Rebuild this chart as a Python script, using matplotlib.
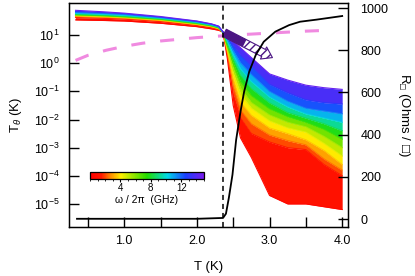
import numpy as np
import matplotlib
matplotlib.use("Agg")
import matplotlib.pyplot as plt
from matplotlib.colors import LinearSegmentedColormap, Normalize
from matplotlib.cm import ScalarMappable
from matplotlib.patches import FancyArrowPatch, ArrowStyle
from matplotlib.ticker import MultipleLocator, FuncFormatter, NullLocator, FixedLocator

plt.rcParams['font.family'] = ['Liberation Sans', 'DejaVu Sans']
plt.rcParams['mathtext.fontset'] = 'custom'
plt.rcParams['mathtext.rm'] = 'Liberation Sans'
plt.rcParams['mathtext.it'] = 'Liberation Sans:italic'
plt.rcParams['mathtext.sf'] = 'Liberation Sans'
plt.rcParams['mathtext.fallback'] = 'stixsans'

# ---------------- data ----------------
# temperatures (K) at which the T_theta curves were read
temps = [0.33, 0.7, 1.0, 1.5, 2.0, 2.2, 2.3, 2.36, 2.42, 2.5, 2.6, 2.75, 3.0, 3.25, 3.5, 3.75, 4.0]
# frequencies (GHz) of the plotted T_theta curves
freqs_ghz = [0.5, 1.5, 2.5, 3.5, 4.5, 5.5, 7.0, 8.5, 10.0, 11.5, 13.0, 14.5]
# log10 of T_theta (K) for each frequency
log_tth_f0p5 = [1.54, 1.52, 1.50, 1.42, 1.30, 1.22, 1.17, 1.10, 0.15, -1.5, -2.65, -3.35, -4.7, -5.0, -5.0, -5.1, -5.2]
log_tth_f1p5 = [1.62, 1.60, 1.57, 1.48, 1.34, 1.26, 1.20, 1.10, 0.30, -1.1, -1.94, -2.5, -2.8, -3.0, -3.07, -3.6, -4.0]
log_tth_f2p5 = [1.66, 1.63, 1.60, 1.51, 1.37, 1.29, 1.22, 1.10, 0.38, -0.8, -1.65, -2.15, -2.55, -2.75, -2.9, -3.4, -3.8]
log_tth_f3p5 = [1.68, 1.65, 1.62, 1.53, 1.38, 1.30, 1.23, 1.10, 0.45, -0.55, -1.38, -1.85, -2.3, -2.5, -2.72, -3.1, -3.6]
log_tth_f4p5 = [1.70, 1.67, 1.63, 1.54, 1.39, 1.31, 1.24, 1.10, 0.50, -0.35, -1.1, -1.6, -2.05, -2.3, -2.45, -2.85, -3.3]
log_tth_f5p5 = [1.71, 1.68, 1.64, 1.55, 1.40, 1.32, 1.25, 1.10, 0.55, -0.2, -0.88, -1.4, -1.84, -2.1, -2.26, -2.6, -3.0]
log_tth_f7p0 = [1.72, 1.69, 1.65, 1.56, 1.41, 1.33, 1.26, 1.10, 0.62, 0.0, -0.65, -1.15, -1.62, -1.9, -2.1, -2.35, -2.7]
log_tth_f8p5 = [1.74, 1.71, 1.67, 1.58, 1.43, 1.34, 1.27, 1.10, 0.70, 0.15, -0.42, -0.9, -1.41, -1.75, -1.95, -2.15, -2.4]
log_tth_f10p0 = [1.77, 1.74, 1.70, 1.60, 1.45, 1.36, 1.29, 1.10, 0.78, 0.30, -0.2, -0.65, -1.2, -1.55, -1.8, -1.95, -2.1]
log_tth_f11p5 = [1.80, 1.77, 1.73, 1.62, 1.47, 1.38, 1.30, 1.10, 0.85, 0.45, 0.02, -0.4, -1.0, -1.35, -1.6, -1.7, -1.8]
log_tth_f13p0 = [1.84, 1.80, 1.76, 1.64, 1.49, 1.39, 1.31, 1.11, 0.92, 0.62, 0.28, -0.1, -0.75, -1.05, -1.3, -1.4, -1.45]
log_tth_f14p5 = [1.88, 1.83, 1.78, 1.66, 1.50, 1.40, 1.32, 1.12, 1.00, 0.78, 0.55, 0.20, -0.38, -0.6, -0.78, -0.87, -0.93]

# pink dashed curve
pink_temps = [0.33, 0.5, 0.75, 1.0, 1.25, 1.5, 2.0, 2.5, 3.0, 3.5, 3.8]
pink_log_tth = [0.10, 0.28, 0.46, 0.60, 0.71, 0.79, 0.91, 1.0, 1.07, 1.14, 1.17]

# sheet resistance (right axis)
r_temps = [0.35, 1.0, 2.0, 2.36, 2.40, 2.44, 2.49, 2.54, 2.60, 2.65, 2.72, 2.81, 2.92, 3.08, 3.27, 3.42, 3.65, 4.0]
r_ohms = [1, 1, 1, 5, 25, 100, 210, 374, 508, 603, 698, 777, 840, 888, 919, 935, 945, 962]

tc_line = 2.36
left_ticks = [1e-5, 1e-4, 1e-3, 1e-2, 1e-1, 1e0, 1e1]
right_ticks = [0, 200, 400, 600, 800, 1000]
cbar_ticks = [4, 8, 12]

curves_log = [log_tth_f0p5, log_tth_f1p5, log_tth_f2p5, log_tth_f3p5, log_tth_f4p5, log_tth_f5p5,
              log_tth_f7p0, log_tth_f8p5, log_tth_f10p0, log_tth_f11p5, log_tth_f13p0, log_tth_f14p5]

# ---------------- figure ----------------
cmap = LinearSegmentedColormap.from_list(
    'spec', [(0.0, '#ff0000'), (0.10, '#ff1a00'), (0.18, '#ff8c00'), (0.27, '#ffee00'),
             (0.50, '#22dd00'), (0.68, '#00d8e8'), (0.84, '#1a40ff'), (1.0, '#7a1aee')])
norm = Normalize(0, 15)

fig = plt.figure(figsize=(4.15, 2.76), dpi=100)
ax = fig.add_axes([69/415, 1-227/276, (348-69)/415, (227-3)/276])
ax.set_yscale('log')
ax.set_xlim(0.24, 4.08)
ax.set_ylim(10**-5.82, 10**2.14)

ax.plot(pink_temps, 10**np.array(pink_log_tth), color='#f08ae0', lw=2.2, dashes=(4.6, 4.9), zorder=1)

T = np.array(temps)
cur = [10**np.array(c) for c in curves_log]
for i in range(1, len(cur)):
    fm = 0.5*(freqs_ghz[i-1] + freqs_ghz[i])
    ax.fill_between(T, cur[i-1], cur[i], color=cmap(norm(fm)), lw=0, zorder=2)
for i, c in enumerate(cur):
    ax.plot(T, c, color=cmap(norm(freqs_ghz[i])), lw=0.8, zorder=3)

# arrow
purple = '#4b1583'
start = (2.38, 10**1.08)
tip = (3.04, 10**0.20)
arr = FancyArrowPatch(start, tip, arrowstyle=ArrowStyle.Simple(head_length=1.0, head_width=1.35, tail_width=0.8),
                      mutation_scale=7.2, fc='white', ec=purple, lw=0.8, hatch='////', shrinkA=0, shrinkB=0, zorder=6)
ax.add_patch(arr)
mid = (2.38 + 0.42*(3.04-2.38), 10**(1.08 + 0.42*(0.20-1.08)))
ax.plot([start[0], mid[0]], [start[1], mid[1]], color=purple, lw=5.8, solid_capstyle='butt', zorder=7)

ax.axvline(tc_line, color='k', lw=1.1, dashes=(3.3, 2.6), zorder=8)

ax.yaxis.set_major_locator(FixedLocator(left_ticks))
ax.yaxis.set_minor_locator(NullLocator())
ax.xaxis.set_major_locator(MultipleLocator(0.5))
ax.xaxis.set_major_formatter(FuncFormatter(lambda v, p: f'{v:.1f}' if abs(v-round(v)) < 1e-6 else ''))
ax.tick_params(axis='both', which='major', direction='in', length=7, width=1, labelsize=9, top=False, right=False)
ax.tick_params(axis='y', pad=7)
ax.tick_params(axis='x', pad=6)
for s in ax.spines.values():
    s.set_linewidth(1.0)

ax.set_xlabel('T (K)', fontsize=9.5, labelpad=10)
ax.set_ylabel(r'T$_\theta$ (K)', fontsize=9.5, labelpad=7)

ax2 = ax.twinx()
ax2.set_ylim(-37.9, 1023.7)
ax2.plot(r_temps, r_ohms, color='k', lw=1.3, zorder=5)
ax2.yaxis.set_major_locator(FixedLocator(right_ticks))
ax2.tick_params(axis='y', direction='in', length=7, width=1, labelsize=9, pad=9)
ax2.set_ylabel('R$_{□}$ (Ohms / □)', fontsize=9.5, rotation=270, labelpad=17)

cax = fig.add_axes([90/415, 1-179/276, 114/415, 7/276])
cb = fig.colorbar(ScalarMappable(norm=norm, cmap=cmap), cax=cax, orientation='horizontal')
cb.set_ticks(cbar_ticks)
cax.xaxis.set_minor_locator(MultipleLocator(1))
cax.tick_params(which='major', length=2.5, width=0.8, labelsize=7, pad=0.5)
cax.tick_params(which='minor', length=1.5, width=0.6)
cb.outline.set_linewidth(0.9)
cb.set_label('ω / 2π  (GHz)', fontsize=7.5, labelpad=1)

fig.savefig('out.png', dpi=100)
